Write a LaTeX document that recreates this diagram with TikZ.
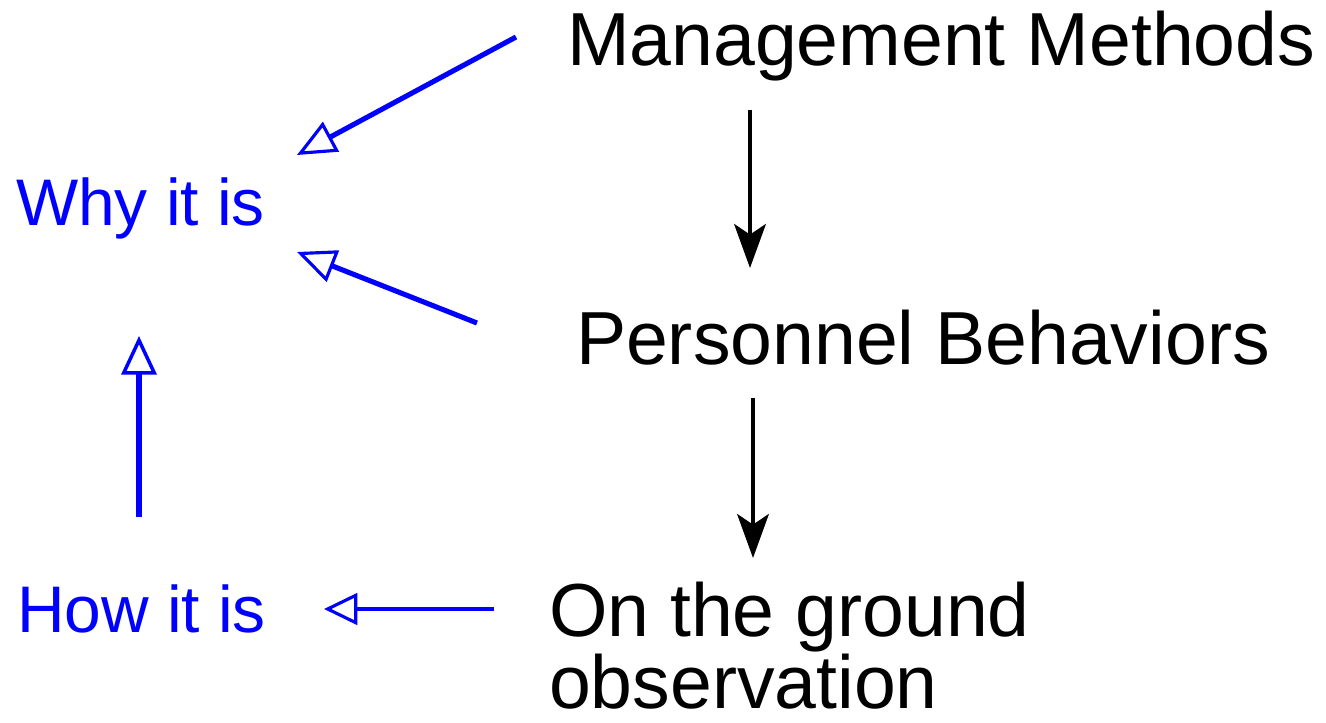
\documentclass[tikz,border=0pt]{standalone}
\usepackage{fontspec}
\setmainfont{Liberation Sans}
\usetikzlibrary{arrows.meta}
\definecolor{pureblue}{RGB}{0,0,255}
\begin{document}
\begin{tikzpicture}[x=0.02cm,y=-0.02cm,
  blacktext/.style={anchor=base west,inner sep=0pt,outer sep=0pt,font=\fontsize{42.8pt}{38pt}\selectfont,text=black,align=left},
  bluetext/.style={anchor=base west,inner sep=0pt,outer sep=0pt,font=\fontsize{37.5pt}{40pt}\selectfont,text=pureblue},
  flow/.style={draw=black,line width=2.5pt,-{Stealth[length=25pt,width=18pt,inset=6pt]}},
  reason/.style={draw=pureblue,line width=2.9pt,-{Triangle[open,length=22pt,width=19pt,line width=1.8pt]}},
  reasonup/.style={draw=pureblue,line width=3.2pt,-{Triangle[open,length=22pt,width=20pt,line width=2pt]}},
  reasonthin/.style={draw=pureblue,line width=2.3pt,-{Triangle[open,length=19pt,width=18pt,line width=1.8pt]}}]
\useasboundingbox (0,0) rectangle (1326,723);
\node[blacktext] (mm) at (567,66) {Management Methods};
\node[blacktext] (pb) at (576,364) {Personnel Behaviors};
\node[blacktext] (og) at (549,708) {On the ground\\observation};
\node[bluetext] (why) at (16,225) {Why it is};
\node[bluetext] (how) at (17,632) {How it is};
\coordinate (a1s) at (750,110);
\coordinate (a1e) at (750,268);
\coordinate (a2s) at (753,398);
\coordinate (a2e) at (753,558);
\coordinate (b1s) at (516,37);
\coordinate (b1e) at (297,155);
\coordinate (b2s) at (477,323);
\coordinate (b2e) at (297,252);
\coordinate (b3s) at (139,517);
\coordinate (b3e) at (139,336);
\coordinate (b4s) at (494,609);
\coordinate (b4e) at (324,609);
\draw[flow] (a1s) -- (a1e);
\draw[flow] (a2s) -- (a2e);
\draw[reason] (b1s) -- (b1e);
\draw[reason] (b2s) -- (b2e);
\draw[reasonup] (b3s) -- (b3e);
\draw[reasonthin] (b4s) -- (b4e);
\end{tikzpicture}
\end{document}
